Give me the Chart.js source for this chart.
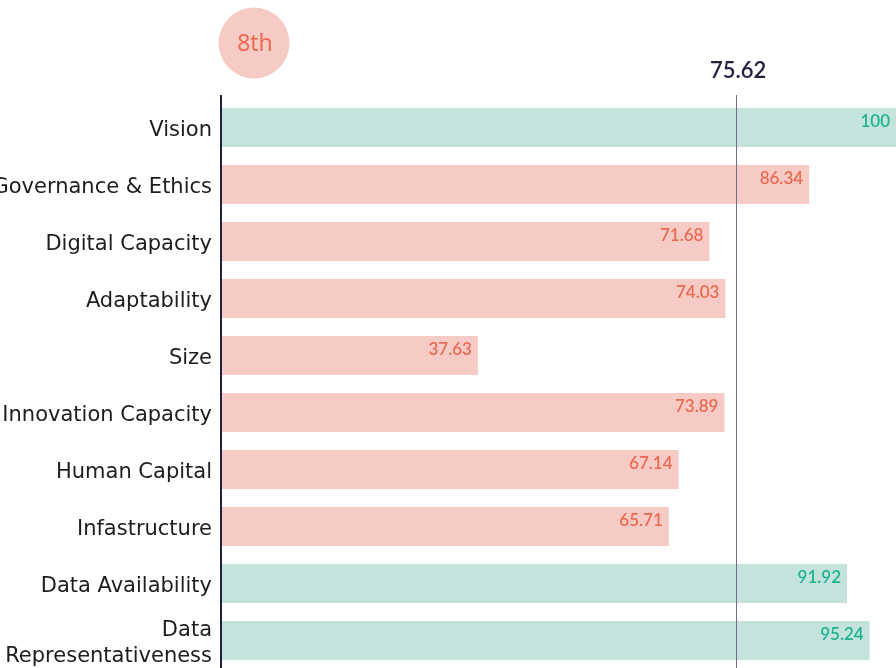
<!DOCTYPE html>
<html>
<head>
<meta charset="utf-8">
<script src="https://cdn.jsdelivr.net/npm/chart.js@4.4.1/dist/chart.umd.min.js"></script>
<style>
  html, body { margin: 0; padding: 0; background: #fff; overflow: hidden; }
  .wrap { position: relative; width: 902px; height: 669px; }
</style>
</head>
<body>
<div class="wrap"><canvas id="pillarChart"></canvas></div>
<script>
const categories = [
  "Vision",
  "Governance & Ethics",
  "Digital Capacity",
  "Adaptability",
  "Size",
  "Innovation Capacity",
  "Human Capital",
  "Infastructure",
  "Data Availability",
  ["Data", "Representativeness"]
];
const scores = [100, 86.34, 71.68, 74.03, 37.63, 73.89, 67.14, 65.71, 91.92, 95.24];
// which colour each bar takes in the reference
const highlight = [true, false, false, false, false, false, false, false, true, true];
const average = 75.62;
const rankLabel = "8th";

const green = "#c3e3dc";
const greenText = "#1fb394";
const pink = "#f7cbc5";
const pinkText = "#ea6a52";
const navy = "#22223f";

const barColors = highlight.map((h) => (h ? green : pink));
const textColors = highlight.map((h) => (h ? greenText : pinkText));

const valueLabels = {
  id: "valueLabels",
  afterDatasetsDraw(chart) {
    const { ctx } = chart;
    const meta = chart.getDatasetMeta(0);
    ctx.save();
    ctx.font = "600 17px Lato, 'Noto Sans', sans-serif";
    ctx.textAlign = "right";
    ctx.textBaseline = "middle";
    meta.data.forEach((bar, i) => {
      ctx.fillStyle = textColors[i];
      ctx.fillText(String(scores[i]), Math.min(bar.x, 896) - 6, bar.y - 6);
    });
    ctx.restore();
  }
};

const averageLine = {
  id: "averageLine",
  afterDatasetsDraw(chart) {
    const { ctx, chartArea } = chart;
    const x = chart.scales.x.getPixelForValue(average);
    const left = chart.scales.x.getPixelForValue(0);
    ctx.save();
    ctx.strokeStyle = "#6f6e86";
    ctx.lineWidth = 1;
    ctx.beginPath();
    ctx.moveTo(Math.round(x) + 0.5, 95);
    ctx.lineTo(Math.round(x) + 0.5, chartArea.bottom);
    ctx.stroke();

    ctx.strokeStyle = navy;
    ctx.lineWidth = 2;
    ctx.beginPath();
    ctx.moveTo(left - 1, 95);
    ctx.lineTo(left - 1, chartArea.bottom);
    ctx.stroke();

    ctx.fillStyle = navy;
    ctx.font = "600 22px Lato, 'Noto Sans', sans-serif";
    ctx.textAlign = "center";
    ctx.textBaseline = "middle";
    ctx.fillText(average.toFixed(2), x + 2, 71);

    // rank badge
    ctx.fillStyle = pink;
    ctx.beginPath();
    ctx.arc(254, 43, 35.5, 0, Math.PI * 2);
    ctx.fill();
    ctx.fillStyle = pinkText;
    ctx.font = "23px 'Noto Sans', sans-serif";
    ctx.fillText(rankLabel, 255, 44);
    ctx.restore();
  }
};

new Chart(document.getElementById("pillarChart"), {
  type: "bar",
  data: {
    labels: categories,
    datasets: [{
      data: scores,
      backgroundColor: barColors,
      borderWidth: 0,
      barPercentage: 0.68,
      categoryPercentage: 1
    }]
  },
  options: {
    indexAxis: "y",
    responsive: true,
    maintainAspectRatio: false,
    animation: false,
    layout: { padding: { top: 99, right: 0, bottom: 0, left: 0 } },
    plugins: { legend: { display: false }, tooltip: { enabled: false } },
    scales: {
      x: {
        min: 0,
        max: 100,
        display: false
      },
      y: {
        grid: { display: false, drawTicks: false },
        border: { display: false },
        afterFit(scale) {
          scale.width = 222;
          scale.paddingTop = 0;
          scale.paddingBottom = 0;
        },
        ticks: {
          color: "#1d1d1d",
          padding: 10,
          labelOffset: 3,
          font: { family: "'DejaVu Sans', sans-serif", size: 21 },
          crossAlign: "near"
        }
      }
    }
  },
  plugins: [averageLine, valueLabels]
});
</script>
</body>
</html>
